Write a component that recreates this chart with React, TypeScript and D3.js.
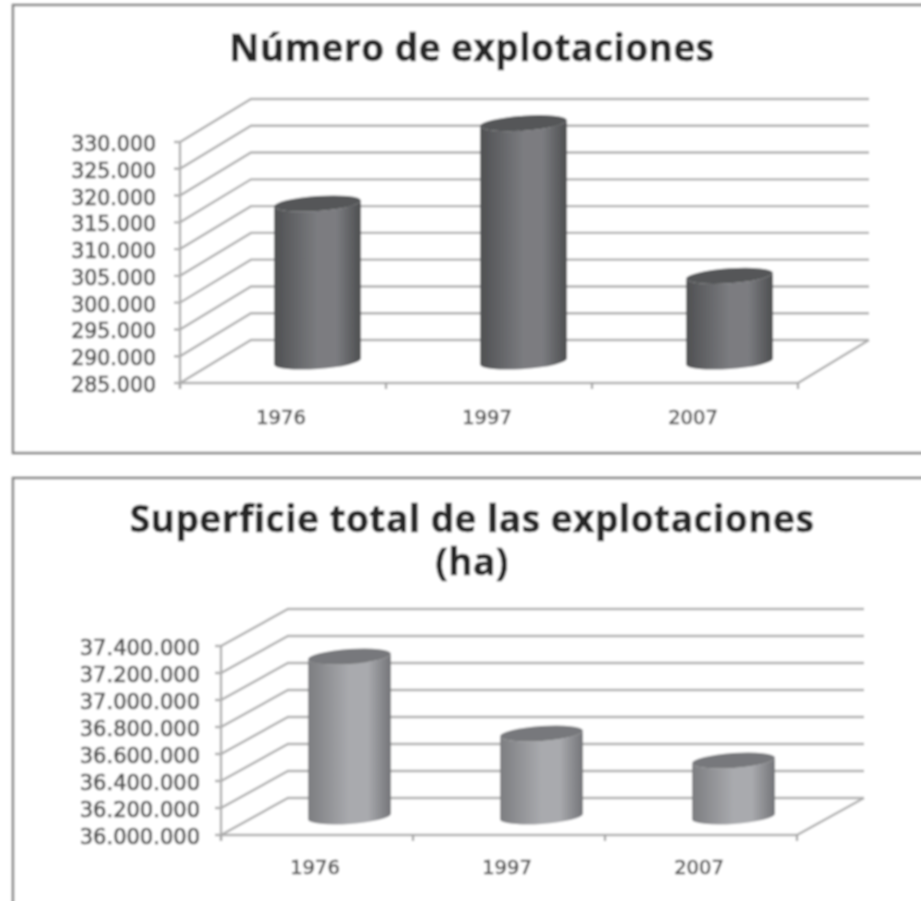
import React from "react";
import * as d3 from "d3";

const categories = ["1976", "1997", "2007"];
const farmValues = [314500, 329500, 301000];
const farmTicks = [285000, 290000, 295000, 300000, 305000, 310000, 315000, 320000, 325000, 330000];
const areaValues = [37185000, 36615000, 36415000];
const areaTicks = [36000000, 36200000, 36400000, 36600000, 36800000, 37000000, 37200000, 37400000];
const farmTitle = ["Número de explotaciones"];
const areaTitle = ["Superficie total de las explotaciones", "(ha)"];

const fmt = (v: number) => d3.format(",")(v).replace(/,/g, ".");

type PanelProps = {
  id: string; values: number[]; ticks: number[]; title: string[];
  box: [number, number, number, number];
  x0: number; x1: number; y0: number; y1: number; dx: number; dy: number;
  titleY: number; titleSize: number; titleGap: number; titleX: number;
  catY: number; colors: [string, string, string]; topColor: string; barW: number;
  labelX: number; ry: number;
};

function Panel(p: PanelProps) {
  const y = d3.scaleLinear().domain([p.ticks[0], p.ticks[p.ticks.length - 1]]).range([p.y0, p.y1]);
  const x = d3.scaleBand().domain(categories).range([p.x0, p.x1]);
  const rot = -4;
  const sin = Math.sin((-rot * Math.PI) / 180), cos = Math.cos((-rot * Math.PI) / 180);
  const rx = p.barW / 2, ry = p.ry;
  const hline = d3.line();
  return (
    <g>
      <defs>
        <linearGradient id={p.id}>
          <stop offset="0" stopColor={p.colors[0]} />
          <stop offset="0.5" stopColor={p.colors[1]} />
          <stop offset="0.72" stopColor={p.colors[1]} />
          <stop offset="1" stopColor={p.colors[2]} />
        </linearGradient>
      </defs>
      <rect x={p.box[0]} y={p.box[1]} width={p.box[2]} height={p.box[3]} fill="#fff" stroke="#858585" strokeWidth={2.5} />
      {p.title.map((t, i) => (
        <text key={t} x={p.titleX} y={p.titleY + i * p.titleGap} textAnchor="middle" fontFamily="Open Sans" fontWeight={700} fontSize={p.titleSize} letterSpacing={0.5} fill="#262626" stroke="#262626" strokeWidth={0.5}>{t}</text>
      ))}
      {p.ticks.map((t) => (
        <g key={t}>
          <path d={hline([[p.x0 - 6, y(t)], [p.x0, y(t)], [p.x0 + p.dx, y(t) - p.dy], [p.x1 + p.dx, y(t) - p.dy]]) ?? ""} fill="none" stroke="#aeaeae" strokeWidth={2.4} />
          <text x={p.labelX} y={y(t) + 9} textAnchor="end" fontFamily="DejaVu Sans" fontSize={p.id === "g1" ? 20.5 : 21} fill="#505050" stroke="#505050" strokeWidth={0.7}>{fmt(t)}</text>
        </g>
      ))}
      <path d={hline([[p.x0, y(p.ticks[0])], [p.x1, y(p.ticks[0])], [p.x1 + p.dx, y(p.ticks[0]) - p.dy]]) ?? ""} fill="none" stroke="#aeaeae" strokeWidth={2.4} />
      <path d={hline([[p.x0, p.y1], [p.x0, p.y0 + 6]]) ?? ""} fill="none" stroke="#aeaeae" strokeWidth={2.4} />
      {[...categories.map((c) => x(c) as number), p.x1].map((tx) => (
        <path key={tx} d={hline([[tx, p.y0], [tx, p.y0 + 6]]) ?? ""} stroke="#a0a0a0" strokeWidth={2.2} fill="none" />
      ))}
      {categories.map((c, i) => {
        const cx = (x(c) as number) + x.bandwidth() / 2 - 1 + p.dx / 2;
        const base = p.y0 - p.dy / 2;
        const top = y(p.values[i]) - p.dy / 2;
        const ex = rx * cos, ey = rx * sin;
        const body = `M${cx - ex},${top + ey}L${cx - ex},${base + ey}A${rx},${ry} ${rot} 0 0 ${cx + ex},${base - ey}L${cx + ex},${top - ey}A${rx},${ry} ${rot} 0 1 ${cx - ex},${top + ey}Z`;
        return (
          <g key={c}>
            <path d={body} fill={`url(#${p.id})`} />
            <ellipse cx={cx} cy={top} rx={rx} ry={ry} transform={`rotate(${rot} ${cx} ${top})`} fill={p.topColor} />
            <text x={(x(c) as number) + x.bandwidth() / 2 - 2} y={p.catY} textAnchor="middle" fontFamily="DejaVu Sans" fontSize={19.5} fill="#505050" stroke="#505050" strokeWidth={0.6}>{c}</text>
          </g>
        );
      })}
    </g>
  );
}

export default function App() {
  return (
    <svg width={921} height={901} viewBox="0 0 921 901" style={{ position: "absolute", left: 0, top: 0, background: "#fff" }}>
      <defs>
        <filter id="soft" x="-2%" y="-2%" width="104%" height="104%">
          <feGaussianBlur stdDeviation="1" />
        </filter>
      </defs>
      <g filter="url(#soft)">
        <Panel id="g1" values={farmValues} ticks={farmTicks} title={farmTitle} box={[13, 5, 930, 448]}
          x0={180} x1={798} y0={383} y1={142} dx={71} dy={43}
          titleX={472} titleY={61} titleSize={37} titleGap={0} catY={424} labelX={156}
          colors={["#4f5052", "#7b7c80", "#4d4e50"]} topColor="#555658" barW={87} ry={7.5} />
        <Panel id="g2" values={areaValues} ticks={areaTicks} title={areaTitle} box={[13, 478, 930, 430]}
          x0={221} x1={797} y0={835} y1={646} dx={67} dy={37}
          titleX={472} titleY={532} titleSize={37} titleGap={43} catY={874} labelX={200}
          colors={["#7c7d80", "#a9aaae", "#737478"]} topColor="#77787b" barW={83} ry={7.5} />
      </g>
    </svg>
  );
}
